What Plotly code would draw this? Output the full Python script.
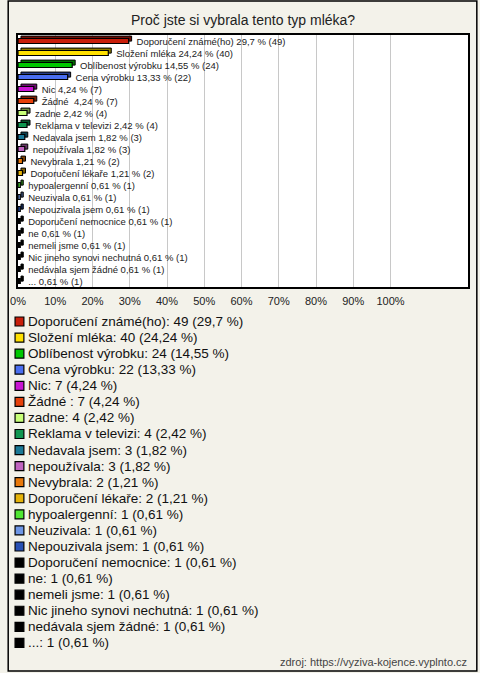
import plotly.graph_objects as go

# ---------------- data ----------------
categories = [
    "Doporučení známé(ho)", "Složení mléka", "Oblíbenost výrobku", "Cena výrobku",
    "Nic", "Žádné ", "zadne", "Reklama v televizi", "Nedavala jsem", "nepoužívala",
    "Nevybrala", "Doporučení lékaře", "hypoalergenní", "Neuzivala", "Nepouzivala jsem",
    "Doporučení nemocnice", "ne", "nemeli jsme", "Nic jineho synovi nechutná",
    "nedávala sjem žádné", "...",
]
counts = [49, 40, 24, 22, 7, 7, 4, 4, 3, 3, 2, 2, 1, 1, 1, 1, 1, 1, 1, 1, 1]
percents = [29.7, 24.24, 14.55, 13.33, 4.24, 4.24, 2.42, 2.42, 1.82, 1.82, 1.21, 1.21,
            0.61, 0.61, 0.61, 0.61, 0.61, 0.61, 0.61, 0.61, 0.61]
percent_labels = ["29,7", "24,24", "14,55", "13,33", "4,24", "4,24", "2,42", "2,42",
                  "1,82", "1,82", "1,21", "1,21", "0,61", "0,61", "0,61", "0,61",
                  "0,61", "0,61", "0,61", "0,61", "0,61"]
colors = ["#c81e0a", "#ffe000", "#00c800", "#4a6ef0", "#c814d2", "#e6400a", "#c8ff78",
          "#109650", "#1a7896", "#c064c0", "#e8780a", "#e6b40a", "#50e632", "#6e96e6",
          "#2850b4", "#000000", "#000000", "#000000", "#000000", "#000000", "#000000"]
tick_values = [0, 10, 20, 30, 40, 50, 60, 70, 80, 90, 100]
tick_labels = ["0%", "10%", "20%", "30%", "40%", "50%", "60%", "70%", "80%", "90%", "100%"]

title = "Proč jste si vybrala tento typ mléka?"
source = "zdroj: https://vyziva-kojence.vyplnto.cz"

# ---------------- layout geometry (px) ----------------
W, H = 480, 673
L, R, T, B = 11, 470, 35, 287
PW, PH = R - L, B - T
FONT = "Liberation Sans, Arial, sans-serif"
BAR_W = 0.42       # front face thickness (category units)
DEPTH_Y = 0.2      # 3D depth upwards (category units)
DEPTH_X = 0.8      # 3D depth to the right (axis units)


def px_x(p):
    return (p - L) / PW


def px_y(p):
    return (B - p) / PH


def darker(hex_color, f=0.55):
    h = hex_color.lstrip("#")
    r, g, b = (int(h[i:i + 2], 16) for i in (0, 2, 4))
    return "#%02x%02x%02x" % (int(r * f), int(g * f), int(b * f))


fig = go.Figure()
# depth (top face) of the 3D bars
for cat, pct, col in zip(categories, percents, colors):
    fig.add_trace(go.Bar(
        x=[pct], y=[cat], base=[DEPTH_X], orientation="h",
        marker=dict(color=darker(col), line=dict(color="#000000", width=1)),
        width=BAR_W, offset=-BAR_W / 2 - DEPTH_Y,
        showlegend=False, hoverinfo="skip",
    ))
# front faces with labels
for cat, n, pct, plab, col in zip(categories, counts, percents, percent_labels, colors):
    fig.add_trace(go.Bar(
        x=[pct], y=[cat], orientation="h",
        marker=dict(color=col, line=dict(color="#000000", width=1.2)),
        width=BAR_W, offset=-BAR_W / 2,
        text=["\u00a0\u00a0\u00a0" + f"{cat} {plab} % ({n})"],
        textposition="outside",
        constraintext="none",
        textfont=dict(size=9.5, color="#222222", family=FONT),
        cliponaxis=False,
        showlegend=False,
        hoverinfo="skip",
    ))

annotations = [
    dict(text=title, x=0.5, xref="paper", y=px_y(20), yref="paper", showarrow=False,
         xanchor="center", yanchor="middle", font=dict(size=14, color="#222222", family=FONT)),
    dict(text=source, x=px_x(471), xref="paper", y=px_y(662), yref="paper", showarrow=False,
         xanchor="right", yanchor="middle", font=dict(size=11, color="#444444", family=FONT)),
]
shapes = [
    dict(type="rect", xref="paper", yref="paper", x0=px_x(1), x1=px_x(479),
         y0=px_y(1), y1=px_y(671), line=dict(color="#000000", width=1.5), layer="below"),
]

# custom legend rows
row0, step = 321.5, 16.07
for i, (cat, n, plab, col) in enumerate(zip(categories, counts, percent_labels, colors)):
    yc = row0 + i * step
    annotations.append(dict(
        text=f"{cat}: {n} ({plab} %)", x=px_x(19), xref="paper", y=px_y(yc), yref="paper",
        showarrow=False, xanchor="left", yanchor="middle",
        font=dict(size=13.5, color="#111111", family=FONT)))
    shapes.append(dict(type="rect", xref="paper", yref="paper",
                       x0=px_x(8), x1=px_x(17), y0=px_y(yc - 4.5), y1=px_y(yc + 4.5),
                       fillcolor=col, line=dict(color="#000000", width=1.2)))

fig.update_layout(
    width=W, height=H,
    margin=dict(l=L, r=W - R, t=T, b=H - B, pad=0),
    paper_bgcolor="#f3f2ea",
    plot_bgcolor="#ffffff",
    barmode="overlay",
    showlegend=False,
    font=dict(family=FONT, color="#222222"),
    annotations=annotations,
    shapes=shapes,
    xaxis=dict(range=[0, 120.8], tickvals=tick_values, ticktext=tick_labels,
               showgrid=True, gridcolor="#c8c8c8", gridwidth=1, zeroline=False,
               showline=True, linecolor="#000000", linewidth=1.5, mirror=True,
               ticks="", ticklabelstandoff=3,
               tickfont=dict(size=11, color="#222222", family=FONT),
               fixedrange=True),
    yaxis=dict(categoryorder="array", categoryarray=categories,
               range=[len(categories) - 0.5, -0.5], showticklabels=False,
               showgrid=False, zeroline=False, showline=True, linecolor="#000000",
               linewidth=1.5, mirror=True, ticks="", fixedrange=True),
)

fig.write_html("out.html", config={"displayModeBar": False},
               post_script="document.body.style.margin='0';document.body.style.padding='0';")
